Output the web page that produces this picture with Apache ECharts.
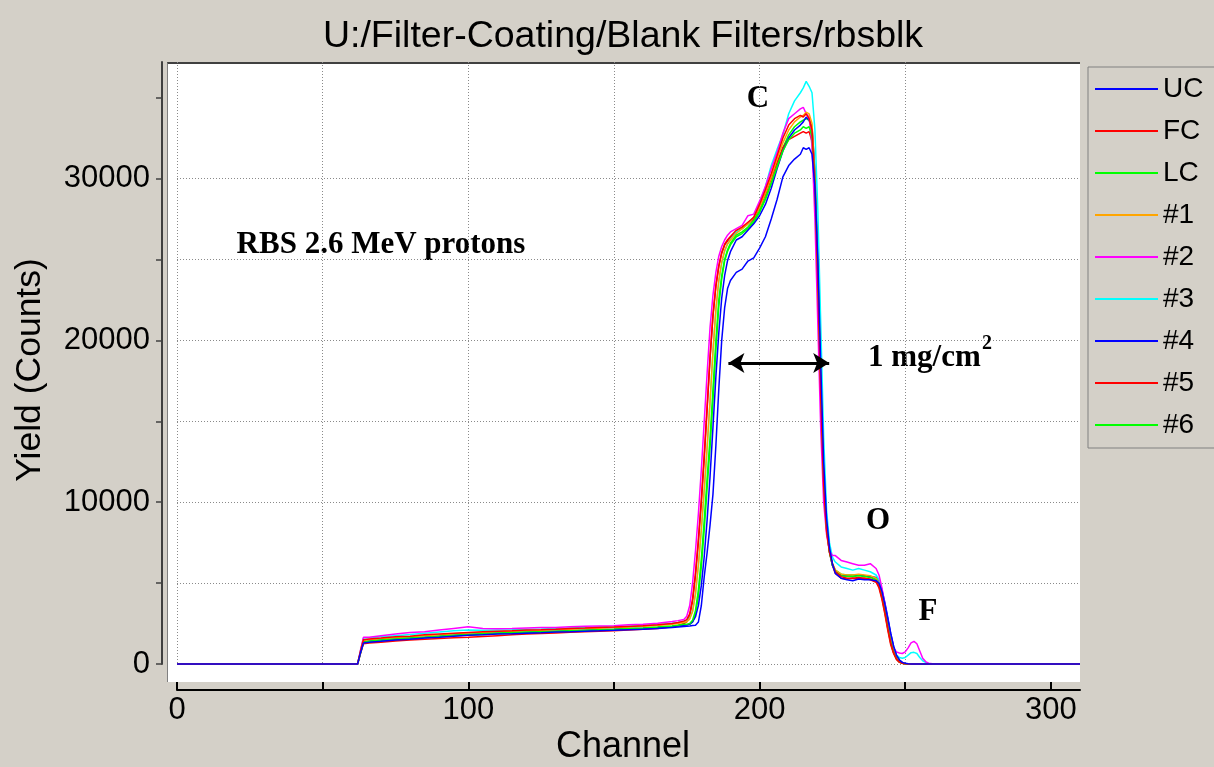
<!DOCTYPE html>
<html>
<head>
<meta charset="utf-8">
<script src="https://cdn.jsdelivr.net/npm/echarts@6/dist/echarts.min.js"></script>
<style>
html,body{margin:0;padding:0;background:#D4D0C8;width:1214px;height:767px;overflow:hidden;}
#bg{position:absolute;left:167px;top:62px;width:913px;height:620px;background:#fff;border-top:2px solid #404040;border-left:1px solid #808080;box-sizing:border-box;}
#chart{position:absolute;left:0;top:0;width:1214px;height:767px;}
</style>
</head>
<body>
<div id="bg"></div>
<div id="chart"></div>
<script>
// ---- data ----
const channels = [0,62,63,64,66,70,75,80,85,90,95,100,105,110,115,120,125,130,135,140,145,150,155,160,165,170,172,174,175,176,177,178,179,180,181,182,183,184,185,186,187,188,189,190,192,194,196,198,200,202,204,206,208,210,212,214,215,216,217,218,219,220,221,222,223,224,225,226,228,230,232,234,236,238,240,241,242,243,244,245,246,247,248,249,250,251,252,253,254,255,256,257,258,260,310];

const seriesNames = ['UC','FC','LC','#1','#2','#3','#4','#5','#6'];
const seriesColors = ['#0000FF','#FF0000','#00FF00','#FFA500','#FF00FF','#00FFFF','#0000FF','#FF0000','#00FF00'];

const UC = [0,0,700,
 1300,1340,1400,1480,1530,1600,1650,1720,1780,1800,1850,1870,1900,1930,1980,2000,2030,2050,2080,2120,2150,2200,2260,2290,2320,
 2330,2350,2380,2400,2600,3600,5400,6900,8600,10500,13500,17000,20000,22000,23200,23700,
 24200,24400,24900,25100,25700,26400,27500,28700,30100,30800,31200,
 31500,31900,31800,31900,31500,29500,25000,18500,12500,9000,7200,6200,5600,
 5300,5200,5150,5250,5200,5200,5150,
 5000,4500,3700,2800,1900,1100,550,250,100,40,10,0,0,0,0,0,0,0,
 0,0];
const FC = [0,0,800,
 1500,1550,1600,1680,1720,1800,1850,1900,1950,2000,2030,2050,2100,2120,2150,2200,2220,2250,2280,2320,2360,2420,2500,2560,2650,
 2740,3100,4020,5640,7720,10160,12940,15960,19000,21580,23400,24600,25420,25940,26220,26420,
 26800,27000,27300,27600,28400,29300,30300,31400,32500,33300,33700,
 33900,33800,34000,33700,33000,29500,23500,16500,11000,8200,6900,6200,5700,
 5400,5300,5300,5350,5300,5250,5100,
 4800,4100,3200,2200,1300,700,300,120,50,10,0,0,0,0,0,0,0,0,
 0,0];
const LC = [0,0,700,
 1350,1400,1480,1540,1600,1660,1720,1780,1830,1870,1910,1940,1970,2000,2030,2060,2090,2120,2150,2190,2230,2280,2350,2400,2450,
 2450,2500,2700,3300,4600,6500,8900,11500,14000,17000,20000,22500,24000,25000,25600,26000,
 26500,26700,27000,27400,28000,28800,29700,30700,31700,32400,32800,
 33000,33200,33100,33200,32600,29800,24200,17300,11500,8400,6900,6100,5700,
 5450,5400,5400,5450,5400,5350,5200,
 4900,4200,3300,2300,1400,750,330,130,50,10,0,0,0,0,0,0,0,0,
 0,0];
const S1 = [0,0,750,
 1450,1500,1560,1620,1680,1740,1800,1870,1920,1950,1990,2020,2060,2090,2120,2150,2180,2210,2250,2290,2330,2380,2460,2500,2580,
 2615,2775,3250,4350,6100,8300,10800,13400,16250,19300,21900,23700,24850,25550,25950,26200,
 26600,26900,27200,27600,28200,29100,30100,31200,32200,33000,33500,
 33800,33900,34100,34000,33400,30200,24500,17500,11600,8500,7000,6200,5800,
 5550,5500,5500,5550,5500,5450,5300,
 5000,4300,3400,2400,1500,800,350,150,60,10,0,0,0,0,0,0,0,0,
 0,0];
const S2 = [0,0,850,
 1650,1650,1750,1850,1950,2000,2100,2200,2300,2200,2180,2200,2230,2250,2250,2300,2330,2350,2370,2420,2450,2520,2620,2680,2750,
 2950,3600,5000,7000,9300,12000,15000,18000,20800,22800,24200,25200,25800,26200,26500,26700,
 26900,27100,27700,27800,28600,29500,30600,31600,32800,33700,34000,
 34300,34400,34000,33800,32000,27500,21000,14500,10000,8000,7000,6700,6700,
 6400,6300,6200,6100,6100,6200,5900,
 5500,4700,3700,2700,1600,1000,750,680,650,750,1000,1300,1400,1250,800,350,150,50,
 0,0];
const S3 = [0,0,800,
 1600,1620,1680,1750,1820,1900,1980,2050,2100,2080,2100,2120,2150,2170,2200,2230,2250,2280,2300,2340,2380,2430,2520,2570,2650,
 2670,2820,3280,4340,6120,8280,10720,13360,16240,19340,21880,23640,24760,25500,25960,26240,
 26700,26900,27200,27600,28400,29500,30800,31800,32700,34000,34800,
 35300,35600,36000,35700,35300,33000,28000,21000,14000,9500,7500,6600,6300,
 6000,5900,5800,5900,5800,5700,5500,
 5200,4500,3600,2600,1700,900,550,400,350,400,550,700,720,650,400,200,100,30,
 0,0];
const S4 = [0,0,700,
 1380,1420,1480,1540,1600,1650,1720,1780,1830,1870,1900,1930,1960,1990,2020,2050,2080,2110,2140,2180,2210,2260,2320,2360,2400,
 2410,2470,2600,2920,3620,4840,6640,8920,11600,14640,17760,20460,22600,24000,24920,25480,
 26200,26400,26800,27200,27700,28400,29400,30600,31700,32500,33000,
 33300,33500,33800,33600,33200,30500,25500,18500,12200,8800,7000,6100,5700,
 5500,5450,5400,5500,5450,5400,5350,
 5150,4600,3800,2900,1900,1100,550,250,100,30,0,0,0,0,0,0,0,0,
 0,0];
const S5 = [0,0,650,
 1250,1300,1350,1420,1480,1530,1580,1620,1650,1700,1750,1800,1850,1880,1920,1960,2000,2030,2060,2100,2150,2200,2300,2380,2500,
 2605,2965,3870,5460,7540,9950,12660,15740,18870,21480,23320,24570,25390,25880,26140,26340,
 26700,26900,27200,27500,28200,29000,30000,31000,31900,32400,32600,
 32800,32900,32800,32900,32300,29300,23800,17000,11300,8300,6900,6100,5600,
 5300,5250,5300,5250,5300,5200,5050,
 4700,4000,3100,2100,1200,650,280,100,40,0,0,0,0,0,0,0,0,0,
 0,0];
const S6 = [0,0,680,
 1300,1350,1420,1490,1560,1620,1680,1740,1790,1830,1870,1900,1940,1970,2000,2040,2070,2100,2130,2170,2200,2250,2320,2360,2420,
 2430,2450,2600,3100,4200,6000,8300,10900,13400,16300,19400,22100,23800,24900,25500,25900,
 26400,26600,26900,27300,27900,28700,29700,30800,31900,32700,33200,
 33500,33600,33700,33600,33100,30300,24800,17800,11800,8600,7000,6200,5800,
 5550,5500,5500,5500,5450,5400,5250,
 5000,4400,3500,2500,1600,850,400,160,60,15,0,0,0,0,0,0,0,0,
 0,0];

const xTickValues = [0,50,100,150,200,250,300];
const xLabelValues = [0,100,200,300];
const yTickValues = [0,5000,10000,15000,20000,25000,30000,35000];
const yLabelValues = [0,10000,20000,30000];

// annotation: double arrow (channel range, yield level)
const arrowChannels = [189.3, 223.9];
const arrowYield = 18600;

// ---- chart ----
const allValues = [UC, FC, LC, S1, S2, S3, S4, S5, S6];
const sans = '"Liberation Sans", Arial, sans-serif';
const serif = '"Liberation Serif", "Times New Roman", serif';

const series = [];
// draw in reverse order so UC ends on top
for (let k = allValues.length - 1; k >= 0; k--) {
  series.push({
    name: seriesNames[k],
    type: 'line',
    data: channels.map((c, i) => [c, allValues[k][i]]),
    showSymbol: false,
    symbol: 'none',
    clip: false,
    color: seriesColors[k],
    lineStyle: { color: seriesColors[k], width: 1.5 },
    itemStyle: { color: seriesColors[k] },
    emphasis: { disabled: true }
  });
}
series.push({
  name: 'arrow',
  type: 'line',
  data: [],
  markLine: {
    silent: true,
    animation: false,
    symbol: ['arrow', 'arrow'],
    symbolSize: [15, 16],
    lineStyle: { color: '#000', width: 3, type: 'solid' },
    itemStyle: { color: '#000' },
    label: { show: false },
    emphasis: { disabled: true },
    data: [[{ coord: [arrowChannels[0], arrowYield] }, { coord: [arrowChannels[1], arrowYield] }]]
  }
});

function txt(x, y, text, font, extra, align) {
  const a = align || 'center';
  return Object.assign({
    type: 'text', x: x, y: y, silent: true,
    style: { text: text, font: font, fill: '#000', textAlign: a, textVerticalAlign: 'middle', align: a, verticalAlign: 'middle' }
  }, extra || {});
}

const chart = echarts.init(document.getElementById('chart'), null, { renderer: 'canvas' });
chart.setOption({
  animation: false,
  backgroundColor: 'transparent',
  grid: { left: 177, right: 134, top: 62, bottom: 103, containLabel: false, show: false },
  xAxis: {
    type: 'value', min: 0, max: 310, interval: 50, offset: 26,
    axisLine: { show: true, onZero: false, lineStyle: { color: '#000', width: 2 } },
    axisTick: { show: true, inside: true, length: 8, customValues: xTickValues, lineStyle: { color: '#000', width: 2 } },
    axisLabel: { show: true, customValues: xLabelValues, fontSize: 31, fontFamily: sans, color: '#000', margin: 5,
      formatter: v => (xLabelValues.indexOf(v) >= 0 ? String(v) : '') },
    splitLine: { show: true, showMaxLine: false, lineStyle: { color: '#8a8a8a', width: 1, type: [1, 2] } }
  },
  yAxis: {
    type: 'value', min: 0, max: 37200, interval: 5000, offset: 15,
    axisLine: { show: true, onZero: false, lineStyle: { color: '#404040', width: 2 } },
    axisTick: { show: true, inside: false, length: 6, customValues: yTickValues, lineStyle: { color: '#404040', width: 1.5 } },
    axisLabel: { show: true, customValues: yLabelValues, fontSize: 31, fontFamily: sans, color: '#000', margin: 12,
      formatter: v => (yLabelValues.indexOf(v) >= 0 ? String(v) : '') },
    splitLine: { show: true, showMaxLine: false, lineStyle: { color: '#8a8a8a', width: 1, type: [1, 2] } }
  },
  legend: {
    orient: 'vertical', left: 1088, top: 67,
    padding: [7, 40, 8, 7], itemGap: 12, itemWidth: 63, itemHeight: 2, icon: 'rect',
    backgroundColor: '#D4D0C8', borderColor: '#808080', borderWidth: 1, borderRadius: 0,
    selectedMode: false,
    textStyle: { fontSize: 28, fontFamily: sans, color: '#000', lineHeight: 30 },
    data: seriesNames
  },
  graphic: [
    txt(623, 37, 'U:/Filter-Coating/Blank Filters/rbsblk', '37.5px ' + sans),
    txt(623, 747, 'Channel', '36px ' + sans),
    txt(30, 370, 'Yield (Counts)', '35.5px ' + sans, { rotation: Math.PI / 2 }),
    txt(758, 99, 'C', 'bold 31px ' + serif),
    txt(381, 245, 'RBS 2.6 MeV protons', 'bold 31px ' + serif),
    txt(868, 358, '1 mg/cm', 'bold 31px ' + serif, null, 'left'),
    txt(982, 344, '2', 'bold 20px ' + serif, null, 'left'),
    txt(878, 521, 'O', 'bold 31px ' + serif),
    txt(928, 612, 'F', 'bold 31px ' + serif)
  ],
  series: series
});
</script>
</body>
</html>
